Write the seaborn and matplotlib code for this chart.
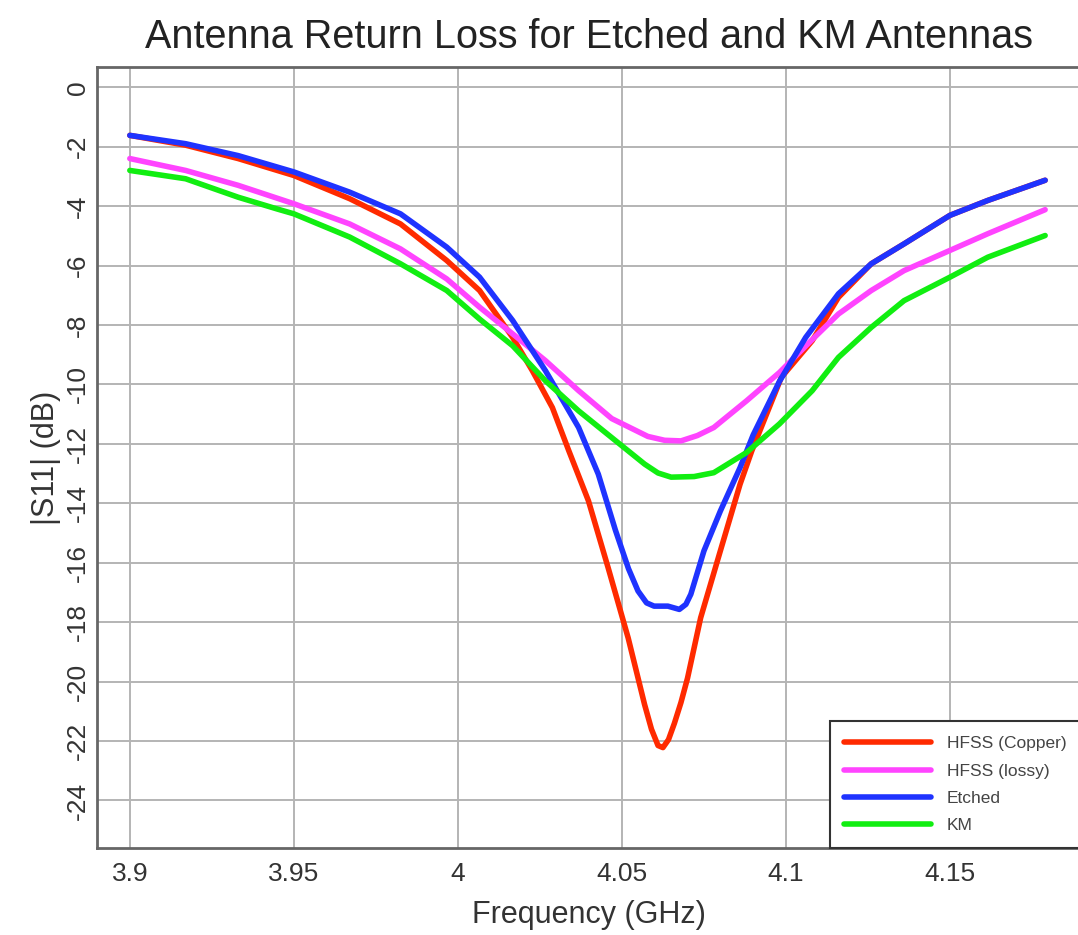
import pandas as pd
import matplotlib.pyplot as plt
import seaborn as sns

# Datos: frecuencia (GHz) y |S11| (dB) para cada antena
freq_copper = [3.900, 3.917, 3.933, 3.950, 3.967, 3.9825, 3.9966, 4.0066, 4.0167, 4.0227,
               4.0288, 4.0338, 4.0398, 4.0458, 4.0519, 4.0569, 4.0590, 4.0610, 4.0625, 4.0642,
               4.0660, 4.0680, 4.0700, 4.0740, 4.0800, 4.0860, 4.0896, 4.0986, 4.108, 4.116,
               4.126, 4.136, 4.150, 4.1615, 4.179]
s11_copper = [-1.62, -1.95, -2.40, -2.97, -3.75, -4.60, -5.83, -6.84, -8.42, -9.54,
              -10.78, -12.23, -13.92, -16.17, -18.53, -20.77, -21.60, -22.15, -22.22, -21.95,
              -21.40, -20.70, -19.88, -17.85, -15.60, -13.36, -12.23, -9.76, -8.53, -7.07,
              -5.94, -5.27, -4.31, -3.81, -3.13]

freq_lossy = [3.900, 3.917, 3.933, 3.950, 3.967, 3.9825, 3.9966, 4.0066, 4.0167, 4.0267,
              4.0368, 4.0469, 4.0579, 4.0630, 4.0680, 4.0730, 4.0780, 4.0880, 4.0980, 4.107,
              4.116, 4.126, 4.136, 4.150, 4.1615, 4.179]
s11_lossy = [-2.40, -2.80, -3.30, -3.92, -4.60, -5.44, -6.45, -7.40, -8.30, -9.20,
             -10.21, -11.15, -11.75, -11.88, -11.90, -11.72, -11.45, -10.55, -9.60, -8.60,
             -7.63, -6.84, -6.17, -5.49, -4.93, -4.12]

freq_etched = [3.900, 3.917, 3.933, 3.950, 3.967, 3.9825, 3.9966, 4.0066, 4.0167, 4.0267,
               4.0368, 4.0428, 4.0480, 4.0520, 4.0549, 4.0575, 4.0598, 4.0640, 4.0675, 4.0695,
               4.0710, 4.0750, 4.0800, 4.0860, 4.0900, 4.0980, 4.106, 4.116, 4.126, 4.136,
               4.150, 4.1615, 4.179]
s11_etched = [-1.62, -1.90, -2.30, -2.85, -3.53, -4.26, -5.38, -6.39, -7.85, -9.54,
              -11.45, -13.02, -14.90, -16.20, -16.95, -17.35, -17.46, -17.46, -17.57, -17.40,
              -17.06, -15.60, -14.26, -12.80, -11.70, -9.90, -8.42, -6.95, -5.94, -5.27,
              -4.31, -3.81, -3.13]

freq_km = [3.900, 3.917, 3.933, 3.945, 3.950, 3.967, 3.9825, 3.9966, 4.0066, 4.0167,
           4.0267, 4.0368, 4.0469, 4.0569, 4.0610, 4.0650, 4.0720, 4.0780, 4.0880, 4.0980,
           4.108, 4.116, 4.126, 4.136, 4.150, 4.1615, 4.179]
s11_km = [-2.80, -3.08, -3.70, -4.10, -4.26, -5.04, -5.94, -6.84, -7.80, -8.70,
          -9.88, -10.89, -11.79, -12.68, -12.98, -13.12, -13.10, -12.97, -12.29, -11.33,
          -10.21, -9.09, -8.08, -7.18, -6.39, -5.72, -4.99]

labels = ["HFSS (Copper)", "HFSS (lossy)", "Etched", "KM"]
colores = ["#ff2a00", "#ff44ff", "#1f33ff", "#11ee11"]

# Construir tabla larga para seaborn
df = pd.concat([
    pd.DataFrame({"freq": freq_copper, "s11": s11_copper, "serie": labels[0]}),
    pd.DataFrame({"freq": freq_lossy, "s11": s11_lossy, "serie": labels[1]}),
    pd.DataFrame({"freq": freq_etched, "s11": s11_etched, "serie": labels[2]}),
    pd.DataFrame({"freq": freq_km, "s11": s11_km, "serie": labels[3]}),
], ignore_index=True)

sns.set_style("whitegrid")
plt.rcParams["font.family"] = ["Liberation Sans", "DejaVu Sans"]

fig = plt.figure(figsize=(10.78, 9.35), dpi=100)
ax = fig.add_axes([0.09, 0.093, 0.913, 0.835])

sns.lineplot(data=df, x="freq", y="s11", hue="serie", hue_order=labels,
             palette=dict(zip(labels, colores)), linewidth=4, estimator=None,
             solid_joinstyle="round", solid_capstyle="round", ax=ax)

ax.set_xlim(3.89, 4.19)
ax.set_ylim(-25.6, 0.67)
ax.set_xticks([3.9, 3.95, 4.0, 4.05, 4.1, 4.15])
ax.set_xticklabels(["3.9", "3.95", "4", "4.05", "4.1", "4.15"])
ax.set_yticks(list(range(0, -25, -2)))
ax.set_yticklabels([str(v) for v in range(0, -25, -2)], rotation=90, va="center")

ax.grid(True, color="#b4b4b4", linewidth=1.4)
for lado in ["left", "bottom", "top"]:
    ax.spines[lado].set_color("#666666")
    ax.spines[lado].set_linewidth(2)
ax.spines["right"].set_visible(False)
ax.tick_params(axis="both", length=0, labelsize=19, colors="#333333")
ax.tick_params(axis="y", pad=5)
ax.tick_params(axis="x", pad=10)

ax.set_title("Antenna Return Loss for Etched and KM Antennas", fontsize=28.5,
             color="#222222", pad=14)
ax.set_xlabel("Frequency (GHz)", fontsize=22, color="#333333", labelpad=10)
ax.set_ylabel("|S11| (dB)", fontsize=22, color="#333333", labelpad=4)

leg = ax.legend(loc="lower right", bbox_to_anchor=(1.0, 0.0), borderaxespad=0,
                fontsize=12.5, handlelength=5.0, handletextpad=0.9, labelspacing=0.7,
                fancybox=False, framealpha=1, borderpad=0.85)
leg.get_frame().set_edgecolor("#333333")
leg.get_frame().set_linewidth(1.5)
for t in leg.get_texts():
    t.set_color("#444444")
for l in leg.get_lines():
    l.set_linewidth(4)

fig.savefig("out.png", dpi=100)
